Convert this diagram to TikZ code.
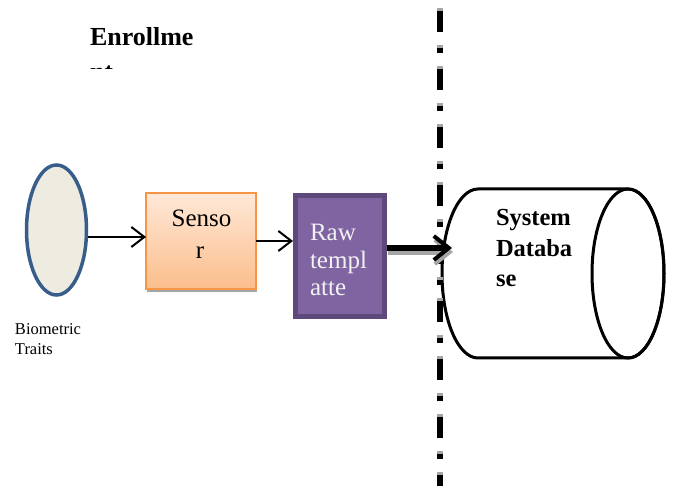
\documentclass[tikz,border=0pt]{standalone}
\usepackage{fontspec}
\setmainfont{Liberation Serif}
\usetikzlibrary{arrows.meta,shapes.geometric}
\definecolor{bioblue}{HTML}{385D8A}
\definecolor{biofill}{HTML}{EEECE1}
\definecolor{sensorborder}{HTML}{F79646}
\definecolor{sensortop}{HTML}{FFE8D8}
\definecolor{sensorbot}{HTML}{FBBE8C}
\definecolor{rawborder}{HTML}{5F497A}
\definecolor{rawfill}{HTML}{8064A2}
\definecolor{rawtext}{HTML}{F2F2F2}
\definecolor{shadowgray}{HTML}{A6A6A6}
\tikzset{
  thinarrow/.style={line width=2pt,-{Straight Barb[length=13pt,width=20pt,line width=2pt]}},
  thickarrow/.style={line width=5.5pt,-{Straight Barb[length=15pt,width=24pt,line width=4pt]}},
  lbl/.style={anchor=base west,inner sep=0pt,outer sep=0pt},
  sepline/.style={line width=6pt,dash pattern=on 21pt off 16pt on 5pt off 16pt},
}
\begin{document}
\begin{tikzpicture}[x=1pt,y=-1pt]
\useasboundingbox (0,0) rectangle (673,486);
% title
\node[lbl,font=\fontsize{26}{31}\selectfont\bfseries] (title) at (90,46) {Enrollme};
\begin{scope}
\clip (80,55) rectangle (250,68.5);
\node[lbl,font=\fontsize{26}{31}\selectfont\bfseries] (title2) at (90,81) {nt};
\end{scope}
% biometric traits
\node[ellipse,draw=bioblue,fill=biofill,line width=3.5pt,minimum width=60pt,minimum height=130pt,inner sep=0pt] (bio) at (56.5,230) {};
\node[lbl,font=\fontsize{16.5}{20}\selectfont] (bt1) at (15,335) {Biometric};
\node[lbl,font=\fontsize{16.5}{20}\selectfont] (bt2) at (15,355) {Traits};
% sensor
\fill[shadowgray] (147,196) rectangle (257,292);
\node[draw=sensorborder,line width=1.5pt,top color=sensortop,bottom color=sensorbot,minimum width=110pt,minimum height=96pt,inner sep=0pt,outer sep=0pt] (sensor) at (201,241) {};
\node[anchor=base,inner sep=0pt,font=\fontsize{25}{30}\selectfont] (s1) at (201.5,226.5) {Senso};
\node[anchor=base,inner sep=0pt,font=\fontsize{25}{30}\selectfont] (s2) at (200,259) {r};
% raw template
\node[draw=rawborder,fill=rawfill,line width=5pt,minimum width=89pt,minimum height=121pt,inner sep=0pt,outer sep=2.5pt] (raw) at (340,256) {};
\node[lbl,text=rawtext,font=\fontsize{25}{30}\selectfont] (r1) at (310,240.5) {Raw};
\node[lbl,text=rawtext,font=\fontsize{25}{30}\selectfont] (r2) at (310,268.5) {templ};
\node[lbl,text=rawtext,font=\fontsize{25}{30}\selectfont] (r3) at (310,295.5) {atte};
% database cylinder
\draw[line width=3pt,fill=white] (478,189) -- (628,189) arc[start angle=-90,end angle=90,x radius=36,y radius=84.5] -- (478,358) arc[start angle=90,end angle=270,x radius=36,y radius=84.5] -- cycle;
\draw[line width=3pt] (628,273.5) ellipse[x radius=36,y radius=84.5];
\coordinate (db) at (452,248);
\node[lbl,font=\fontsize{24.5}{30}\selectfont\bfseries] (d1) at (496,226) {System};
\node[lbl,font=\fontsize{24.5}{30}\selectfont\bfseries] (d2) at (496,257) {Databa};
\node[lbl,font=\fontsize{24.5}{30}\selectfont\bfseries] (d3) at (496,287) {se};
% separator
\coordinate (septop) at (440,11);
\coordinate (sepbot) at (440,490);
\draw[sepline,shadowgray] ([yshift=3pt]septop) -- ([yshift=3pt]sepbot);
\draw[sepline] (septop) -- (sepbot);
% connectors
\draw[thinarrow] (bio.east |- 0,237) -- (sensor.west |- 0,237);
\draw[thinarrow] (sensor.east |- 0,241) -- (raw.west |- 0,241);
\draw[thickarrow,shadowgray] ([shift={(1,4)}]raw.east |- db) -- ([shift={(1,4)}]db);
\draw[thickarrow] (raw.east |- db) -- (db);
\end{tikzpicture}
\end{document}
